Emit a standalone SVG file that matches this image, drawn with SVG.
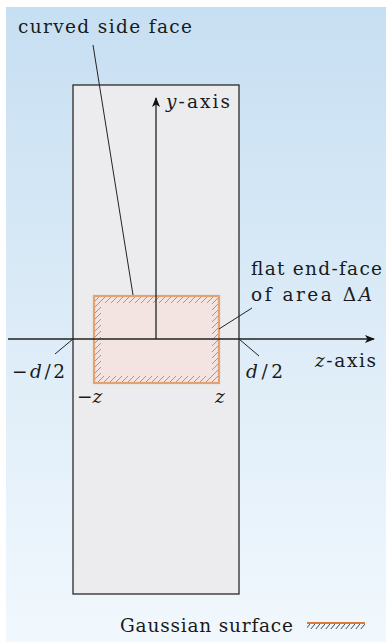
<svg xmlns="http://www.w3.org/2000/svg" width="386" height="642" viewBox="0 0 386 642">
<defs>
<linearGradient id="bg" x1="0" y1="0" x2="0" y2="1">
<stop offset="0" stop-color="#c7dff2"/>
<stop offset="1" stop-color="#f1f8fd"/>
</linearGradient>
<pattern id="hatch" width="6" height="6" patternUnits="userSpaceOnUse">
<line x1="-1" y1="7" x2="7" y2="-1" stroke="#9a9a9a" stroke-width="1"/>
</pattern>
<pattern id="hatch2" width="5" height="6" patternUnits="userSpaceOnUse">
<line x1="0" y1="6" x2="5" y2="0" stroke="#333" stroke-width="0.9"/>
</pattern>
<marker id="arr" markerWidth="10" markerHeight="8" refX="9" refY="4" orient="auto" markerUnits="userSpaceOnUse">
<path d="M0,0 L10,4 L0,8 L2.5,4 Z" fill="#111"/>
</marker>
<style>
text{font-family:"DejaVu Serif","Liberation Serif",serif;font-size:18.5px;fill:#1a1a1a}
.ax{stroke:#222;stroke-width:1.3;fill:none}
.ld{stroke:#222;stroke-width:1;fill:none}
</style>
</defs>
<rect x="0" y="0" width="386" height="642" fill="#ffffff"/>
<rect x="6" y="7" width="380" height="635" fill="url(#bg)"/>
<g id="slab">
<rect x="73" y="85" width="166" height="509" fill="#ececee" stroke="#2a2a2a" stroke-width="1.3"/>
</g>
<g id="gaussian">
<rect x="94" y="296" width="125" height="87" fill="#f3e3e1"/>
<path d="M94,296 H219 V383 H94 Z M101,303 V376 H212 V303 Z" fill="url(#hatch)" fill-rule="evenodd"/>
<rect x="94" y="296" width="125" height="87" fill="none" stroke="#e2a273" stroke-width="2.2"/>
</g>
<g id="connectors">
<line class="ax" x1="8" y1="339" x2="374" y2="339" marker-end="url(#arr)"/>
<line class="ax" x1="156" y1="339" x2="156" y2="98" marker-end="url(#arr)"/>
<line class="ld" x1="93" y1="45" x2="133" y2="295"/>
<line class="ld" x1="252" y1="308" x2="219" y2="329"/>
<line class="ld" x1="239" y1="339" x2="259" y2="356"/>
<line class="ld" x1="55" y1="354" x2="73" y2="339"/>
</g>
<g id="labels">
<text x="18" y="33" textLength="174">curved side face</text>
<text x="166" y="108" textLength="64"><tspan font-style="italic">y</tspan>-axis</text>
<text x="251" y="275" textLength="131">flat end-face</text>
<text x="251" y="301" textLength="121">of area Δ<tspan font-style="italic">A</tspan></text>
<text x="315" y="367" textLength="61"><tspan font-style="italic">z</tspan>-axis</text>
<text x="246" y="378" textLength="37"><tspan font-style="italic">d</tspan>/2</text>
<text x="12" y="378" textLength="53">−<tspan font-style="italic">d</tspan>/2</text>
<text x="77" y="403">−<tspan font-style="italic">z</tspan></text>
<text x="215" y="403" font-style="italic">z</text>
</g>
<g id="legend">
<text x="120" y="632" textLength="173">Gaussian surface</text>
<path d="M307,623 H365 V629 H307 Z" fill="url(#hatch2)"/>
<line x1="307" y1="623" x2="365" y2="623" stroke="#d9793a" stroke-width="1.8"/>
</g>
</svg>
